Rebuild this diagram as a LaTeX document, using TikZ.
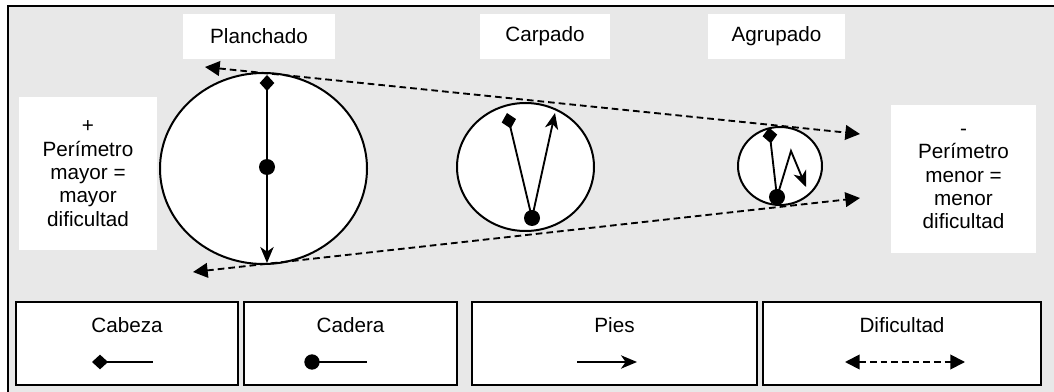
\documentclass[tikz,border=0pt]{standalone}
\usepackage{fontspec}
\setmainfont{Liberation Sans}
\usetikzlibrary{arrows.meta,shapes.geometric}
\definecolor{panel}{HTML}{E8E8E8}

\begin{document}
\begin{tikzpicture}[%
x=0.75pt, y=-0.75pt,
font=\fontsize{15.5}{17.5}\selectfont,
tag/.style={fill=white, inner sep=0pt, align=center},
body/.style={ellipse, draw, fill=white, line width=1.5pt, inner sep=0pt},
stick/.style={line width=1.4pt},
hip/.style={circle, fill, inner sep=0pt, minimum size=12pt},
headtip/.style={stick, {Diamond[length=12pt,width=11pt]}-},
feettip/.style={stick, -{Stealth[length=12pt,width=10pt,inset=3.5pt]}},
hardness/.style={line width=1.4pt, dash pattern=on 5pt off 3pt,
  {Triangle[length=11pt,width=11pt]}-{Triangle[length=11pt,width=11pt]}},
legend/.style={draw, fill=white, line width=1.5pt, inner sep=0pt,
  minimum height=62.25pt},
]
\useasboundingbox (0,0) rectangle (1054,392);
\clip (0,0) rectangle (1054,392);
\draw [fill=panel, line width=1.5pt] (8,6) rectangle (1080,420);

%% titles;
\node [tag, minimum width=114pt, minimum height=33.75pt] (planchado) at (259,36.5) {Planchado};
\node [tag, minimum width=97.5pt, minimum height=33.75pt] (carpado) at (545,36.5) {Carpado};
\node [tag, minimum width=102.75pt, minimum height=33.75pt] (agrupado) at (776.5,36.5) {Agrupado};
\node [tag, minimum width=103.5pt, minimum height=114.75pt] (mayor) at (88,173.5)
  {+\\Perímetro\\mayor =\\mayor\\dificultad};
\node [tag, minimum width=108.75pt, minimum height=111pt] (menor) at (963.5,179)
  {-\\Perímetro\\menor =\\menor\\dificultad};

%% bodies;
\node [body, minimum width=155.25pt, minimum height=143.25pt] (p-body) at (263.5,168.5) {};
\node [body, minimum width=102.75pt, minimum height=96pt] (c-body) at (525.5,167) {};
\node [body, minimum width=63pt, minimum height=58.5pt] (a-body) at (780,166) {};

%% planchado;
\coordinate (p-head) at (267,75);
\coordinate (p-hip) at (267,167);
\coordinate (p-feet) at (267,263);
\draw [headtip] (p-head) -- (p-hip);
\draw [feettip] (p-hip) -- (p-feet);
\node [hip] (p-dot) at (p-hip) {};

%% carpado;
\coordinate (c-head) at (507,113);
\coordinate (c-hip) at (532,218);
\coordinate (c-feet) at (555,113);
\draw [headtip] (c-head) -- (c-hip);
\draw [feettip] (c-hip) -- (c-feet);
\node [hip] (c-dot) at (c-hip) {};

%% agrupado;
\coordinate (a-head) at (769,127.5);
\coordinate (a-hip) at (777,197);
\coordinate (a-knee) at (791,151);
\coordinate (a-feet) at (806,187);
\draw [headtip] (a-head) -- (a-hip);
\draw [feettip] (a-hip) -- (a-knee) -- (a-feet);
\node [hip] (a-dot) at (a-hip) {};

%% perimeter;
\coordinate (top-l) at (205,67);
\coordinate (top-r) at (860,134);
\coordinate (bot-l) at (193,272);
\coordinate (bot-r) at (860,198);
\draw [hardness] (top-l) -- (top-r);
\draw [hardness] (bot-l) -- (bot-r);

%% legend;
\node [legend, minimum width=166.5pt] (cabeza) at (127,343.5) {};
\node [legend, minimum width=159.75pt] (cadera) at (350.5,343.5) {};
\node [legend, minimum width=213.75pt] (pies) at (614.5,343.5) {};
\node [legend, minimum width=208.5pt] (dificultad) at (902,343.5) {};
\node (cabeza-t) at (127,325) {Cabeza};
\node (cadera-t) at (350.5,325) {Cadera};
\node (pies-t) at (614.5,325) {Pies};
\node (dificultad-t) at (902,325) {Dificultad};
\coordinate (k1) at (92,362);   \coordinate (k2) at (153,362);
\coordinate (h1) at (312,362);  \coordinate (h2) at (367,362);
\coordinate (f1) at (577,362);  \coordinate (f2) at (637,362);
\coordinate (d1) at (845,362);  \coordinate (d2) at (965,362);
\draw [headtip] (k1) -- (k2);
\draw [stick] (h1) -- (h2);
\node [hip, minimum size=11.5pt] (h-dot) at (h1) {};
\draw [feettip] (f1) -- (f2);
\draw [hardness] (d1) -- (d2);
\end{tikzpicture}
\end{document}
